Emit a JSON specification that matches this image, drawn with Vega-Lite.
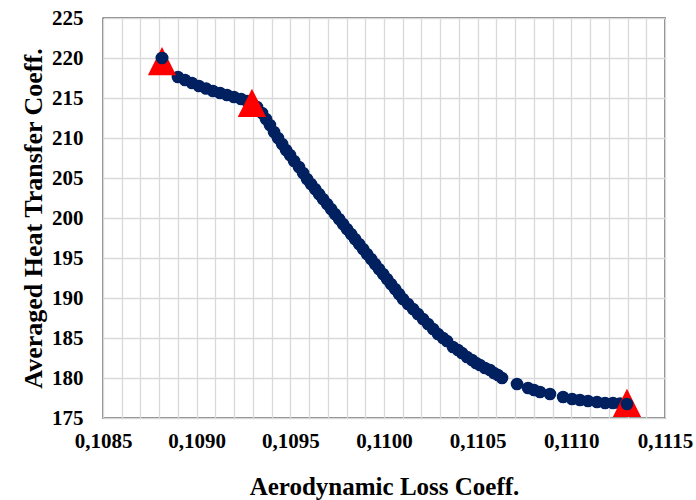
{
  "$schema": "https://vega.github.io/schema/vega-lite/v6.json",
  "width": 562,
  "height": 400,
  "autosize": {"type": "none"},
  "padding": {"left": 103, "top": 18, "right": 31, "bottom": 82},
  "background": "white",
  "config": {
    "view": {"stroke": "black", "strokeWidth": 1.3},
    "axis": {
      "labelFont": "Liberation Serif",
      "titleFont": "Liberation Serif",
      "labelFontWeight": "bold",
      "titleFontWeight": "bold",
      "labelFontSize": 21,
      "titleFontSize": 25,
      "labelColor": "black",
      "titleColor": "black",
      "gridColor": "#d9d9d9",
      "gridWidth": 1.3,
      "gridOpacity": 1,
      "ticks": false,
      "domain": false
    }
  },
  "datasets": {
    "curve": [
      {"x": 0.108815, "y": 220.0, "end": true},
      {"x": 0.108900, "y": 217.63, "end": false},
      {"x": 0.108938, "y": 217.25, "end": false},
      {"x": 0.108975, "y": 216.88, "end": false},
      {"x": 0.109012, "y": 216.5, "end": false},
      {"x": 0.109050, "y": 216.19, "end": false},
      {"x": 0.109087, "y": 215.88, "end": false},
      {"x": 0.109125, "y": 215.63, "end": false},
      {"x": 0.109162, "y": 215.38, "end": false},
      {"x": 0.109199, "y": 215.13, "end": false},
      {"x": 0.109237, "y": 214.88, "end": false},
      {"x": 0.109269, "y": 214.63, "end": false},
      {"x": 0.109295, "y": 214.38, "end": false},
      {"x": 0.109322, "y": 213.88, "end": false},
      {"x": 0.109349, "y": 213.13, "end": false},
      {"x": 0.109370, "y": 212.38, "end": false},
      {"x": 0.109391, "y": 211.63, "end": false},
      {"x": 0.109413, "y": 210.75, "end": false},
      {"x": 0.109434, "y": 210.0, "end": false},
      {"x": 0.109456, "y": 209.25, "end": false},
      {"x": 0.109477, "y": 208.5, "end": false},
      {"x": 0.109498, "y": 207.88, "end": false},
      {"x": 0.109520, "y": 207.13, "end": false},
      {"x": 0.109546, "y": 206.38, "end": false},
      {"x": 0.109568, "y": 205.63, "end": false},
      {"x": 0.109589, "y": 204.88, "end": false},
      {"x": 0.109610, "y": 204.25, "end": false},
      {"x": 0.109632, "y": 203.63, "end": false},
      {"x": 0.109653, "y": 203.0, "end": false},
      {"x": 0.109674, "y": 202.38, "end": false},
      {"x": 0.109696, "y": 201.75, "end": false},
      {"x": 0.109717, "y": 201.13, "end": false},
      {"x": 0.109738, "y": 200.5, "end": false},
      {"x": 0.109760, "y": 199.88, "end": false},
      {"x": 0.109781, "y": 199.25, "end": false},
      {"x": 0.109802, "y": 198.63, "end": false},
      {"x": 0.109824, "y": 198.0, "end": false},
      {"x": 0.109845, "y": 197.38, "end": false},
      {"x": 0.109867, "y": 196.75, "end": false},
      {"x": 0.109888, "y": 196.13, "end": false},
      {"x": 0.109909, "y": 195.5, "end": false},
      {"x": 0.109931, "y": 194.88, "end": false},
      {"x": 0.109952, "y": 194.25, "end": false},
      {"x": 0.109973, "y": 193.63, "end": false},
      {"x": 0.109995, "y": 193.0, "end": false},
      {"x": 0.110016, "y": 192.38, "end": false},
      {"x": 0.110037, "y": 191.75, "end": false},
      {"x": 0.110059, "y": 191.13, "end": false},
      {"x": 0.110080, "y": 190.5, "end": false},
      {"x": 0.110101, "y": 189.88, "end": false},
      {"x": 0.110128, "y": 189.25, "end": false},
      {"x": 0.110155, "y": 188.63, "end": false},
      {"x": 0.110181, "y": 188.0, "end": false},
      {"x": 0.110208, "y": 187.38, "end": false},
      {"x": 0.110235, "y": 186.75, "end": false},
      {"x": 0.110262, "y": 186.13, "end": false},
      {"x": 0.110288, "y": 185.5, "end": false},
      {"x": 0.110315, "y": 185.0, "end": false},
      {"x": 0.110336, "y": 184.63, "end": false},
      {"x": 0.110368, "y": 183.88, "end": false},
      {"x": 0.110395, "y": 183.5, "end": false},
      {"x": 0.110416, "y": 183.13, "end": false},
      {"x": 0.110443, "y": 182.63, "end": false},
      {"x": 0.110470, "y": 182.25, "end": false},
      {"x": 0.110491, "y": 181.88, "end": false},
      {"x": 0.110512, "y": 181.63, "end": false},
      {"x": 0.110539, "y": 181.25, "end": false},
      {"x": 0.110566, "y": 181.0, "end": false},
      {"x": 0.110587, "y": 180.63, "end": false},
      {"x": 0.110608, "y": 180.38, "end": false},
      {"x": 0.110630, "y": 180.0, "end": false},
      {"x": 0.110710, "y": 179.25, "end": false},
      {"x": 0.110769, "y": 178.75, "end": false},
      {"x": 0.110801, "y": 178.5, "end": false},
      {"x": 0.110833, "y": 178.25, "end": false},
      {"x": 0.110886, "y": 178.0, "end": false},
      {"x": 0.110956, "y": 177.63, "end": false},
      {"x": 0.111004, "y": 177.38, "end": false},
      {"x": 0.111046, "y": 177.25, "end": false},
      {"x": 0.111089, "y": 177.13, "end": false},
      {"x": 0.111137, "y": 177.0, "end": false},
      {"x": 0.111180, "y": 176.88, "end": false},
      {"x": 0.111222, "y": 176.88, "end": false},
      {"x": 0.111260, "y": 176.81, "end": false},
      {"x": 0.111297, "y": 176.75, "end": true}
    ],
    "markers": [
      {"x": 0.108815, "y": 219.6},
      {"x": 0.109295, "y": 214.4},
      {"x": 0.111297, "y": 176.9}
    ]
  },
  "encoding": {
    "x": {
      "field": "x",
      "type": "quantitative",
      "scale": {"domain": [0.1085, 0.1115], "nice": false, "zero": false},
      "axis": {
        "title": "Aerodynamic Loss Coeff.",
        "values": [0.1085, 0.1086, 0.1087, 0.1088, 0.1089, 0.109, 0.1091, 0.1092, 0.1093, 0.1094, 0.1095, 0.1096, 0.1097, 0.1098, 0.1099, 0.11, 0.1101, 0.1102, 0.1103, 0.1104, 0.1105, 0.1106, 0.1107, 0.1108, 0.1109, 0.111, 0.1111, 0.1112, 0.1113, 0.1114, 0.1115],
        "labelExpr": "round(datum.value * 10000) % 5 == 0 ? replace(format(datum.value, '.4f'), '.', ',') : ''",
        "labelOverlap": false,
        "labelFlush": false,
        "labelPadding": 12,
        "titlePadding": 23
      }
    },
    "y": {
      "field": "y",
      "type": "quantitative",
      "scale": {"domain": [175, 225], "nice": false, "zero": false},
      "axis": {
        "title": "Averaged Heat Transfer Coeff.",
        "titleFontSize": 26,
        "values": [175, 180, 185, 190, 195, 200, 205, 210, 215, 220, 225],
        "labelPadding": 20,
        "titlePadding": 5,
        "labelFlush": false,
        "labelOverlap": false
      }
    }
  },
  "layer": [
    {
      "data": {"name": "curve"},
      "mark": {"type": "point", "shape": "circle", "filled": true, "size": 160, "color": "#002060", "opacity": 1}
    },
    {
      "data": {"name": "markers"},
      "mark": {"type": "point", "shape": "M-1,1L1,1L0,-1Z", "filled": true, "size": 800, "color": "#ff0000", "opacity": 1}
    },
    {
      "data": {"name": "curve"},
      "transform": [{"filter": "datum.end"}],
      "mark": {"type": "point", "shape": "circle", "filled": true, "size": 160, "color": "#002060", "opacity": 1}
    }
  ]
}
